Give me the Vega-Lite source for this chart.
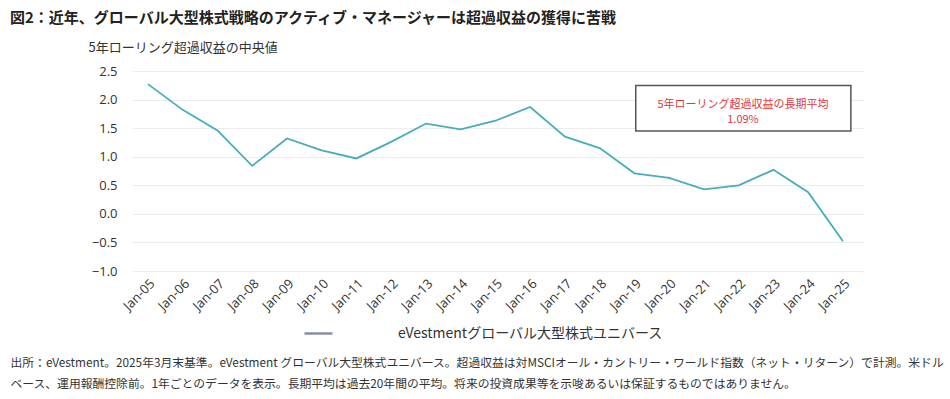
{
  "$schema": "https://vega.github.io/schema/vega-lite/v6.json",
  "width": 732,
  "height": 200,
  "autosize": {"type": "none"},
  "padding": {"left": 132, "top": 71, "right": 86, "bottom": 127},
  "background": "white",
  "config": {
    "font": "Open Sans, Noto Sans CJK JP",
    "view": {"stroke": null},
    "title": {"font": "Noto Sans CJK JP", "fontSize": 15, "fontWeight": "bold", "color": "#222222"},
    "axisX": {
      "labelAngle": -45, "labelFontSize": 13, "labelColor": "#333333",
      "labelPadding": 6, "ticks": false, "domain": false, "grid": false,
      "labelFont": "Open Sans", "labelOverlap": false,
      "titleFont": "Noto Sans CJK JP", "titleFontSize": 11.8, "titleFontWeight": "normal",
      "titleColor": "#333333", "titleAnchor": "start", "titleAlign": "left",
      "titleBaseline": "top", "titleX": -122, "titleY": 86, "titleLineHeight": 21
    },
    "axisY": {
      "tickCount": 8, "format": ".1f",
      "labelFontSize": 13, "labelColor": "#333333",
      "labelPadding": 15, "ticks": false, "domain": false, "labelOverlap": false,
      "grid": true, "gridColor": "#ececec", "gridWidth": 1,
      "titleFont": "Noto Sans CJK JP", "titleFontSize": 13, "titleFontWeight": "normal",
      "titleColor": "#333333", "titleAngle": 0, "titleAlign": "left",
      "titleBaseline": "middle", "titleX": -44, "titleY": -24
    }
  },
  "title": {
    "text": "図2：近年、グローバル大型株式戦略のアクティブ・マネージャーは超過収益の獲得に苦戦",
    "anchor": "start",
    "frame": "group",
    "dx": -122,
    "dy": -11
  },
  "layer": [
    {
      "data": {"values": [
        {"date": "2005-01-01", "value": 2.27},
        {"date": "2006-01-01", "value": 1.82},
        {"date": "2007-01-01", "value": 1.46},
        {"date": "2008-01-01", "value": 0.84},
        {"date": "2009-01-01", "value": 1.32},
        {"date": "2010-01-01", "value": 1.11},
        {"date": "2011-01-01", "value": 0.97},
        {"date": "2012-01-01", "value": 1.26},
        {"date": "2013-01-01", "value": 1.58},
        {"date": "2014-01-01", "value": 1.48},
        {"date": "2015-01-01", "value": 1.63},
        {"date": "2016-01-01", "value": 1.87},
        {"date": "2017-01-01", "value": 1.35},
        {"date": "2018-01-01", "value": 1.15},
        {"date": "2019-01-01", "value": 0.71},
        {"date": "2020-01-01", "value": 0.63},
        {"date": "2021-01-01", "value": 0.43},
        {"date": "2022-01-01", "value": 0.50},
        {"date": "2023-01-01", "value": 0.77},
        {"date": "2024-01-01", "value": 0.38},
        {"date": "2025-01-01", "value": -0.48}
      ]},
      "mark": {"type": "line", "strokeWidth": 1.8, "color": "#48adbb"},
      "encoding": {
        "x": {
          "field": "date", "type": "temporal",
          "scale": {"type": "utc", "domain": ["2004-07-17", "2025-08-10"]},
          "axis": {
            "labelExpr": "utcFormat(datum.value, '%b-%y')",
            "tickCount": {"interval": "year", "step": 1},
            "title": [
              "出所：eVestment。2025年3月末基準。eVestment グローバル大型株式ユニバース。超過収益は対MSCIオール・カントリー・ワールド指数（ネット・リターン）で計測。米ドル",
              "ベース、運用報酬控除前。1年ごとのデータを表示。長期平均は過去20年間の平均。将来の投資成果等を示唆あるいは保証するものではありません。"
            ]
          }
        },
        "y": {
          "field": "value", "type": "quantitative",
          "scale": {"domain": [-1, 2.5], "nice": false, "zero": false},
          "axis": {
            "title": "5年ローリング超過収益の中央値"
          }
        }
      }
    },
    {
      "data": {"values": [{"series": "eVestmentグローバル大型株式ユニバース"}]},
      "mark": {"type": "line", "strokeWidth": 2.5},
      "encoding": {
        "color": {
          "field": "series", "type": "nominal",
          "scale": {"range": ["#8a8ca6"]},
          "legend": {
            "orient": "none", "legendX": 171, "legendY": 247, "title": null,
            "symbolType": "stroke", "symbolSize": 784, "symbolStrokeWidth": 2.5,
            "labelFont": "Noto Sans CJK JP", "labelFontSize": 14, "labelColor": "#333333",
            "labelOffset": 64, "labelLimit": 500
          }
        }
      }
    },
    {
      "mark": {"type": "rule", "color": "#e6a3ad", "strokeWidth": 1.5},
      "encoding": {"y": {"datum": 1.15}}
    },
    {
      "mark": {"type": "rule", "color": "#55636a", "strokeWidth": 1.5},
      "encoding": {"y": {"datum": 0}}
    },
    {
      "data": {"values": [{"date": "2019-01-15", "date_end": "2025-03-25", "value": 2.245, "value_end": 1.45}]},
      "mark": {"type": "rect", "fill": "white", "stroke": "#555555", "strokeWidth": 1.5},
      "encoding": {
        "x": {"field": "date", "type": "temporal"},
        "x2": {"field": "date_end"},
        "y": {"field": "value", "type": "quantitative"},
        "y2": {"field": "value_end"}
      }
    },
    {
      "data": {"values": [{"date": "2022-02-15", "value": 1.90, "label": "5年ローリング超過収益の長期平均\n1.09%"}]},
      "mark": {"type": "text", "color": "#e0383f", "fontSize": 11, "lineBreak": "\n", "lineHeight": 14.5, "align": "center", "baseline": "middle", "font": "Noto Sans CJK JP"},
      "encoding": {
        "x": {"field": "date", "type": "temporal"},
        "y": {"field": "value", "type": "quantitative"},
        "text": {"field": "label"}
      }
    }
  ]
}
